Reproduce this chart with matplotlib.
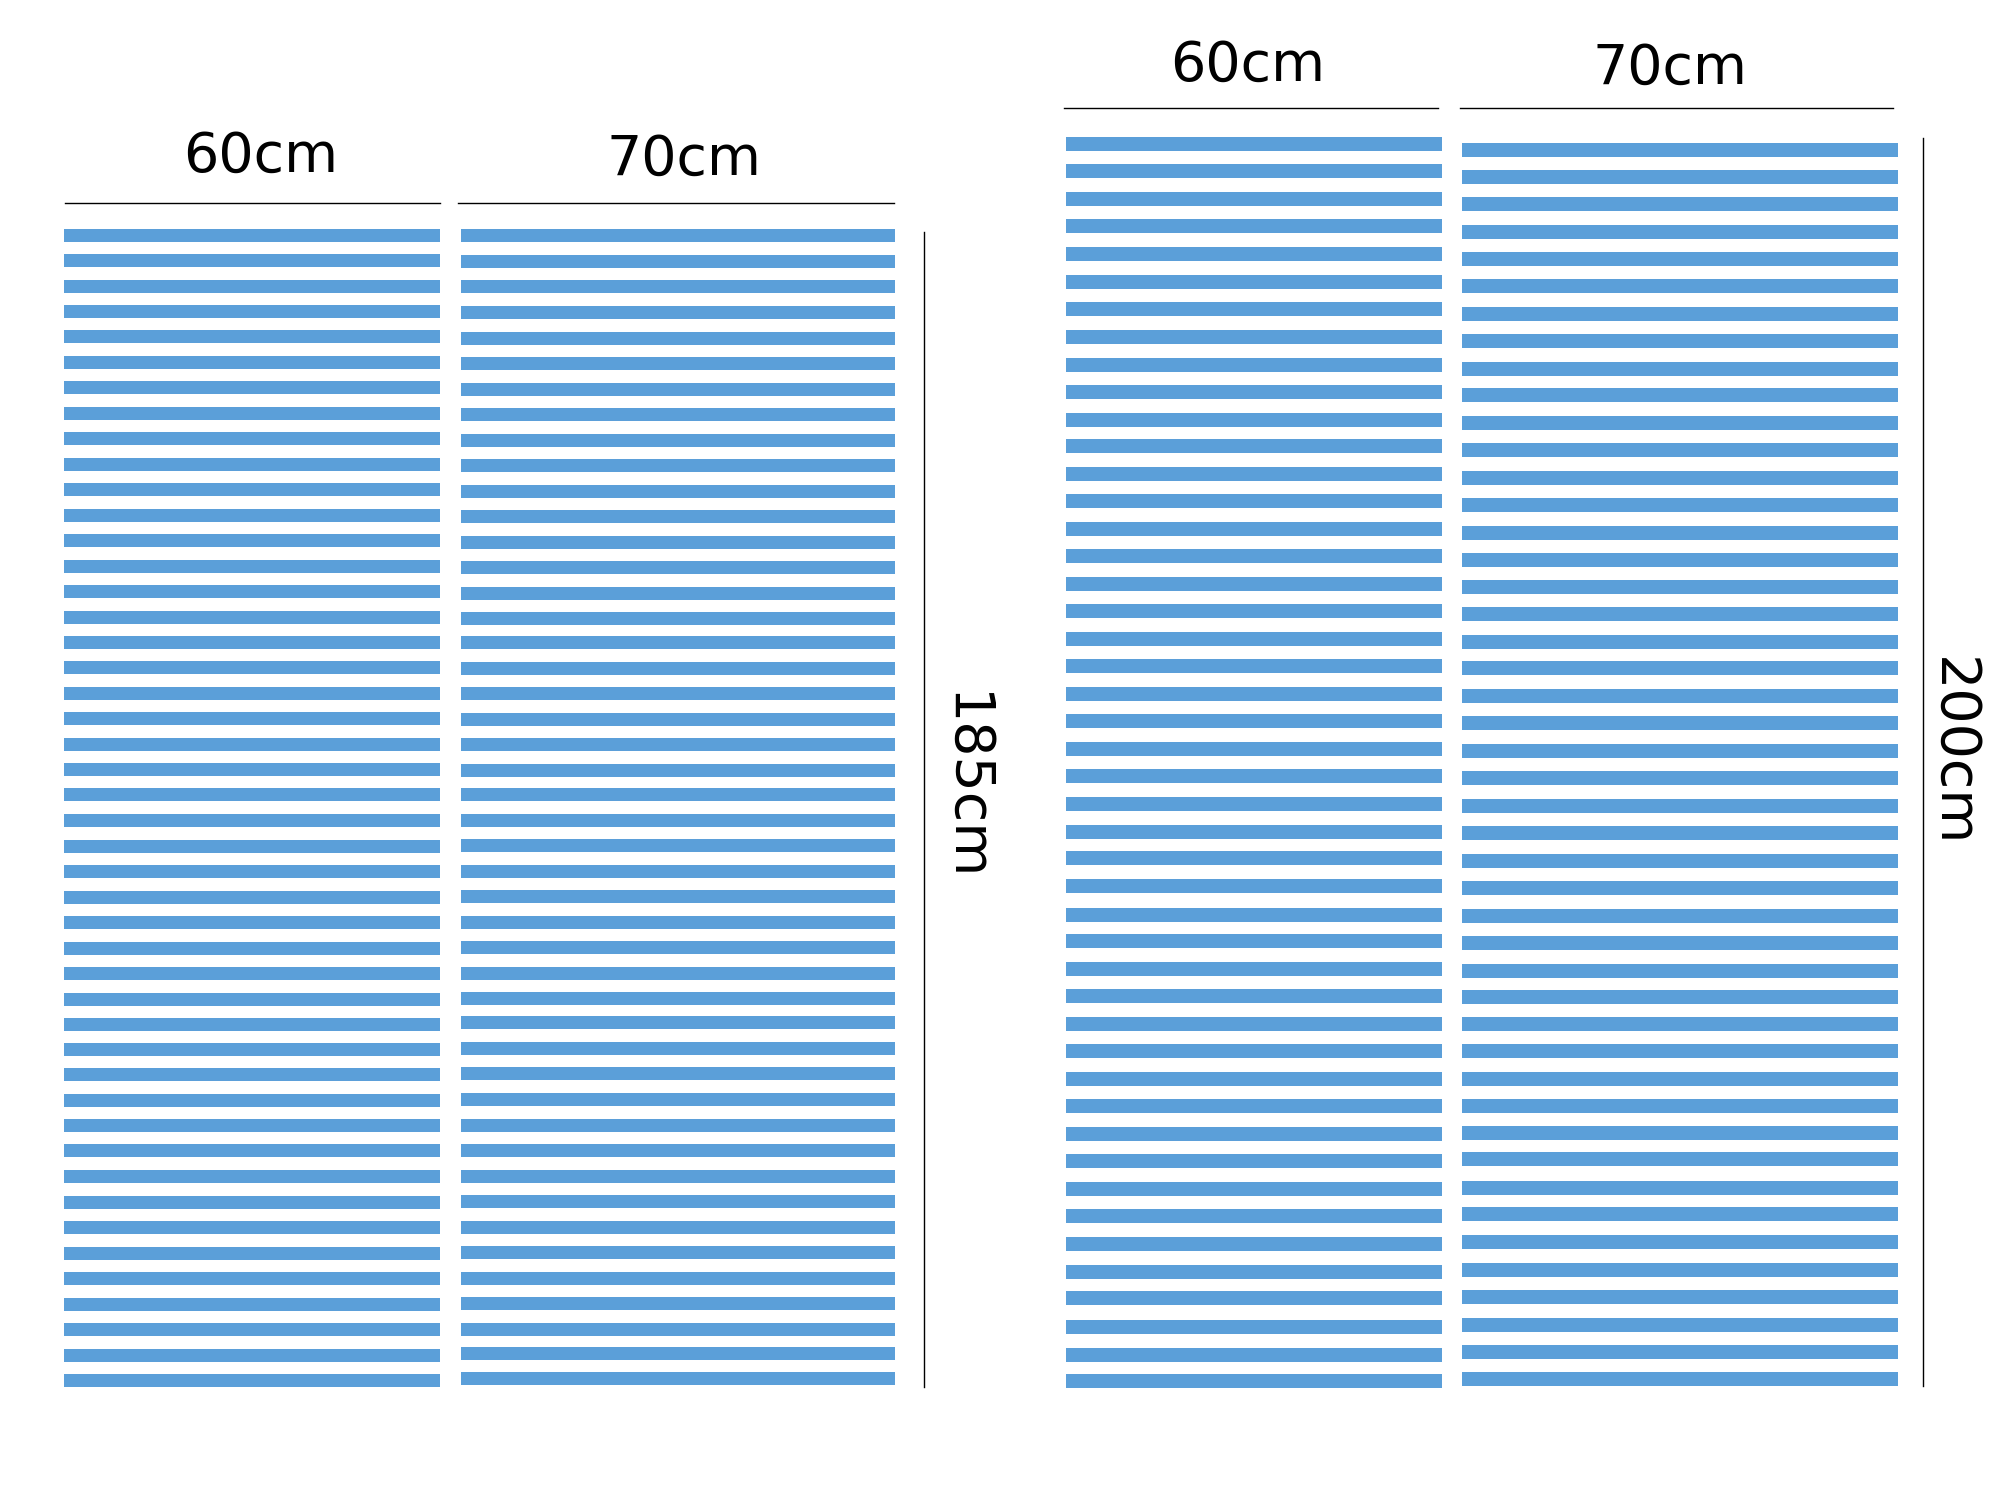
import numpy as np
import matplotlib
matplotlib.use('Agg')
import matplotlib.pyplot as plt

# slat centres (picture units, 1568 wide)
rows_a60 = [185,204.5,224.5,244,264,284,304,324,344,364,384,404,424,444,464,484,504,523.5,543.5,563.5,583.5,603.5,623,643,663.5,683.5,703.5,723.5,743.5,763.5,783.5,803,822.5,842.5,862.5,882.5,902,922.5,942.5,962.5,982.5,1002.5,1022.5,1042.5,1062.5,1082]
rows_a70 = [185,205,225,245,265,285,305,325,345,365,385,405,425,445,465,485,504,524,544,564,584,604,623,643,663,683,703,723,743,763,783,802,822,842,862,882,902,922,942,962,982,1002,1022,1042,1061.5,1081]
rows_b60 = [113,134,156,177,199,221,242,264,286,307,329,350,372,393,415,436,458,479,501,522,544,565,587,608,630,652,673,695,717,738,760,781,803,824,846,867,889,910,932,953,975,997,1018,1040,1062,1083]
rows_b70 = [117.5,139,160,182,203,224,246,267,289,310,332,353,375,396,418,439,460,481,503,524,546,567,589,610,632,653,675,696,718,739,761,782,803,824,846,867,888,909,931,952,974,996,1017,1039,1060,1081]

col_rows = [rows_a60, rows_a70, rows_b60, rows_b70]
col_widths_cm = [60, 70, 60, 70]
width_labels = ['60cm', '70cm', '60cm', '70cm']
height_labels = ['185cm', '200cm']

BLUE = '#5b9fd9'
W, H = 2000, 1500
K = 2000 / 1568    # picture units -> output pixels
PX_CM = 6.2

fig = plt.figure(figsize=(20, 15), dpi=100, facecolor='white')

# where each column sits on the page (pixels)
col_left = [64, 461, 1066, 1462]
col_right = [440, 895, 1442, 1898]
slat_px = [13, 13, 14, 14]

for rows, wid, l, r, t in zip(col_rows, col_widths_cm, col_left, col_right, slat_px):
    rows = np.array(rows, dtype=float)
    y_cm = (rows - rows[0]) * K / PX_CM
    t_cm = t / PX_CM
    top = rows[0] * K - t / 2
    bottom = rows[-1] * K + t / 2
    ax = fig.add_axes([l / W, 1 - bottom / H, (r - l) / W, (bottom - top) / H])
    ax.barh(y_cm, wid, height=t_cm, left=0, color=BLUE, linewidth=0)
    ax.set_xlim(0, wid)
    ax.set_ylim(y_cm[-1] + t_cm / 2, -t_cm / 2)
    ax.axis('off')

# thin rules and labels go on a page-sized overlay
over = fig.add_axes([0, 0, 1, 1])
over.set_xlim(0, W)
over.set_ylim(H, 0)
over.axis('off')
over.patch.set_alpha(0)

over.plot([65, 440], [203, 203], color='black', lw=1)
over.plot([458, 894], [203, 203], color='black', lw=1)
over.plot([1064, 1438], [108, 108], color='black', lw=1)
over.plot([1460, 1893], [108, 108], color='black', lw=1)
over.plot([924, 924], [232, 1387], color='black', lw=1)
over.plot([1923, 1923], [138, 1386], color='black', lw=1)

FS = 40
for lab, x, y in zip(width_labels, [261, 684, 1247.5, 1670], [157, 160, 66, 69]):
    over.text(x, y, lab, fontsize=FS, ha='center', va='center', color='black')
for lab, x, y in zip(height_labels, [964, 1952], [787, 752]):
    over.text(x, y, lab, fontsize=FS, rotation=270, ha='center', va='center', color='black')

plt.savefig('out.png', dpi=100)
